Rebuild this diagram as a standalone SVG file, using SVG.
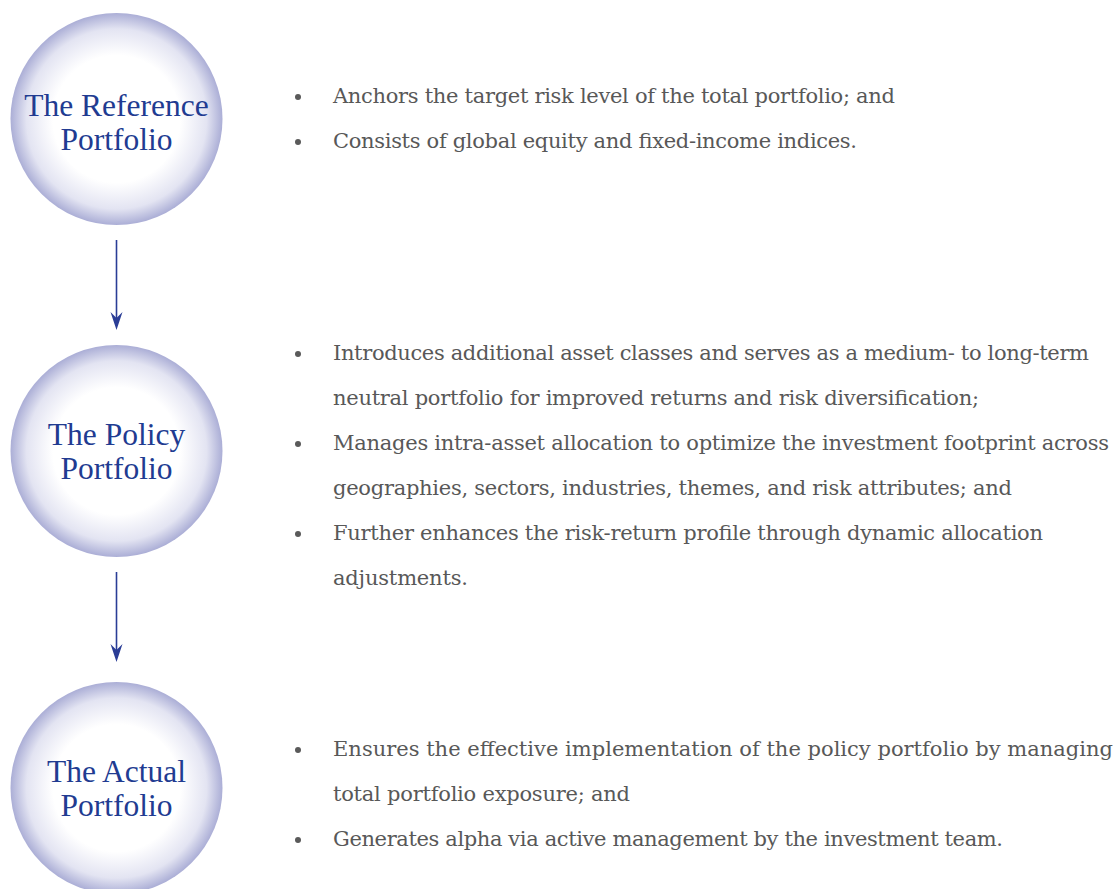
<svg xmlns="http://www.w3.org/2000/svg" width="1117" height="889" viewBox="0 0 1117 889">
  <defs>
    <radialGradient id="orb" cx="50%" cy="50%" r="50%">
      <stop offset="0%" stop-color="#ffffff"/>
      <stop offset="60%" stop-color="#ffffff"/>
      <stop offset="85%" stop-color="#e3e4f2"/>
      <stop offset="100%" stop-color="#abaed6"/>
    </radialGradient>
    <style>
      .orb { fill: url(#orb); }
      .title { font-family: "Liberation Serif", "DejaVu Serif", serif; font-size: 31.5px; fill: #213b91; text-anchor: middle; }
      .body { font-family: "DejaVu Serif", "Liberation Serif", serif; font-size: 21px; fill: #585858; }
      .dot { fill: #5a5a5a; }
      .conn { stroke: #2a3d96; stroke-width: 1.6; fill: none; }
      .head { fill: #2a3d96; }
    </style>
  </defs>
  <rect width="1117" height="889" fill="#ffffff"/>

  <g id="connectors">
    <line class="conn" x1="116.5" y1="240" x2="116.5" y2="318"/>
    <path class="head" d="M110.5,312 L116.5,330 L122.5,312 L116.5,318 Z"/>
    <line class="conn" x1="116.5" y1="572" x2="116.5" y2="650"/>
    <path class="head" d="M110.5,644 L116.5,662 L122.5,644 L116.5,650 Z"/>
  </g>

  <g id="node-reference">
    <circle class="orb" cx="116.5" cy="119" r="106"/>
    <text class="title" x="116.5" y="116">The Reference</text>
    <text class="title" x="116.5" y="150">Portfolio</text>
  </g>

  <g id="node-policy">
    <circle class="orb" cx="116.5" cy="451" r="106"/>
    <text class="title" x="116.5" y="445">The Policy</text>
    <text class="title" x="116.5" y="479">Portfolio</text>
  </g>

  <g id="node-actual">
    <circle class="orb" cx="116.5" cy="788" r="106"/>
    <text class="title" x="116.5" y="782">The Actual</text>
    <text class="title" x="116.5" y="816">Portfolio</text>
  </g>

  <g id="text-reference">
    <circle class="dot" cx="298" cy="97" r="3"/>
    <text class="body" x="333" y="103" textLength="562" lengthAdjust="spacing">Anchors the target risk level of the total portfolio; and</text>
    <circle class="dot" cx="298" cy="142" r="3"/>
    <text class="body" x="333" y="148" textLength="524" lengthAdjust="spacing">Consists of global equity and fixed-income indices.</text>
  </g>

  <g id="text-policy">
    <circle class="dot" cx="298" cy="354" r="3"/>
    <text class="body" x="333" y="360" textLength="756" lengthAdjust="spacing">Introduces additional asset classes and serves as a medium- to long-term</text>
    <text class="body" x="333" y="405" textLength="646" lengthAdjust="spacing">neutral portfolio for improved returns and risk diversification;</text>
    <circle class="dot" cx="298" cy="444" r="3"/>
    <text class="body" x="333" y="450" textLength="776" lengthAdjust="spacing">Manages intra-asset allocation to optimize the investment footprint across</text>
    <text class="body" x="333" y="495" textLength="679" lengthAdjust="spacing">geographies, sectors, industries, themes, and risk attributes; and</text>
    <circle class="dot" cx="298" cy="534" r="3"/>
    <text class="body" x="333" y="540" textLength="710" lengthAdjust="spacing">Further enhances the risk-return profile through dynamic allocation</text>
    <text class="body" x="333" y="585" textLength="135" lengthAdjust="spacing">adjustments.</text>
  </g>

  <g id="text-actual">
    <circle class="dot" cx="298" cy="750" r="3"/>
    <text class="body" x="333" y="756" textLength="780" lengthAdjust="spacing">Ensures the effective implementation of the policy portfolio by managing</text>
    <text class="body" x="333" y="801" textLength="297" lengthAdjust="spacing">total portfolio exposure; and</text>
    <circle class="dot" cx="298" cy="840" r="3"/>
    <text class="body" x="333" y="846" textLength="670" lengthAdjust="spacing">Generates alpha via active management by the investment team.</text>
  </g>
</svg>
